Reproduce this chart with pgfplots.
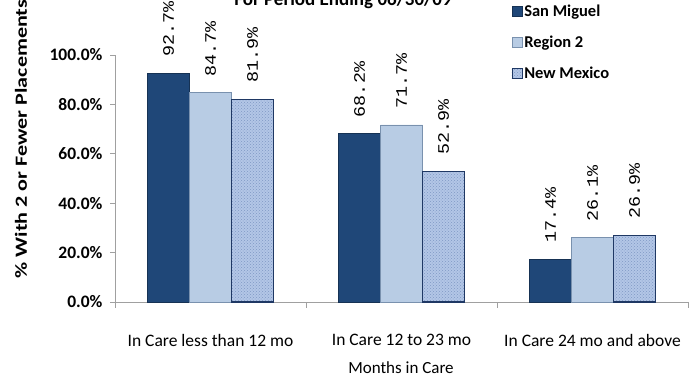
\documentclass[border=0pt]{standalone}
\usepackage{pgfplots}
\pgfplotsset{compat=1.18}
\usepackage{fontspec}
\setmainfont{Carlito}
\newfontfamily\monofont{Liberation Mono}
\usetikzlibrary{patterns}
\definecolor{dark}{HTML}{1F4778}
\definecolor{light}{HTML}{B8CCE4}
\definecolor{nmfill}{HTML}{B3C6E6}
\definecolor{nmdot}{HTML}{7F98C4}
\definecolor{nmedge}{HTML}{1F3864}
\definecolor{axgray}{HTML}{A0A0A0}
\begin{document}
\begin{tikzpicture}[x=1pt,y=1pt]
\useasboundingbox (0,0) rectangle (695,377);
\begin{axis}[
  at={(115pt,75pt)}, anchor=south west,
  width=573pt, height=247pt, scale only axis,
  ybar=0pt, bar width=42pt,
  xmin=-0.5, xmax=2.5, ymin=0, ymax=100,
  axis x line*=bottom, axis y line*=left,
  axis line style={axgray, line width=0.8pt},
  xtick={0,1,2},
  xticklabels={In Care less than 12 mo, In Care 12 to 23 mo, In Care 24 mo and above},
  minor xtick={-0.5,0.5,1.5,2.5},
  major x tick style={draw=none},
  minor x tick style={axgray, line width=0.8pt},
  minor tick length=6pt,
  tick align=outside,
  ytick={0,20,40,60,80,100},
  yticklabels={0.0\%,20.0\%,40.0\%,60.0\%,80.0\%,100.0\%},
  y tick style={axgray, line width=0.8pt},
  major tick length=5pt,
  yticklabel style={font=\fontsize{17.5}{20}\selectfont\bfseries, xshift=-4pt},
  xticklabel style={font=\fontsize{17.5}{20}\selectfont, yshift=-24pt},
  nodes near coords={\pgfmathprintnumber[fixed,fixed zerofill,precision=1,assume math mode=true]{\pgfplotspointmeta}\%},
  every node near coord/.append style={rotate=90, anchor=west, inner xsep=14pt, font=\monofont\fontsize{16}{18}\selectfont, xscale=1.15, black},
  legend style={at={(0.69,1.215)}, anchor=north west, draw=none, fill=none,
    font=\fontsize{16.5}{19}\selectfont\bfseries, row sep=14pt, inner sep=1pt,
    legend cell align=left},
  legend image code/.code={\draw[#1, line width=0.7pt] (0pt,-5pt) rectangle (10pt,5pt);},
  clip=false,
]
\addplot[fill=dark, draw=dark!70!black, line width=0.6pt] coordinates {(0,92.7) (1,68.2) (2,17.4)};
\addplot[fill=light, draw=dark!60, line width=0.6pt] coordinates {(0,84.7) (1,71.7) (2,26.1)};
\addplot[fill=nmfill, draw=nmedge, line width=1.2pt, postaction={pattern=crosshatch dots, pattern color=nmdot}] coordinates {(0,81.9) (1,52.9) (2,26.9)};
\legend{San Miguel, Region 2, New Mexico}
\end{axis}
\node[rotate=90, xscale=1.3, anchor=west, font=\fontsize{17}{19}\selectfont\bfseries] at (21,94) {\% With 2 or Fewer Placements};
\node[anchor=base, font=\fontsize{19}{22}\selectfont\bfseries] at (343,371) {For Period Ending 06/30/09};
\node[font=\fontsize{17}{19}\selectfont] at (401,9) {Months in Care};
\end{tikzpicture}
\end{document}
